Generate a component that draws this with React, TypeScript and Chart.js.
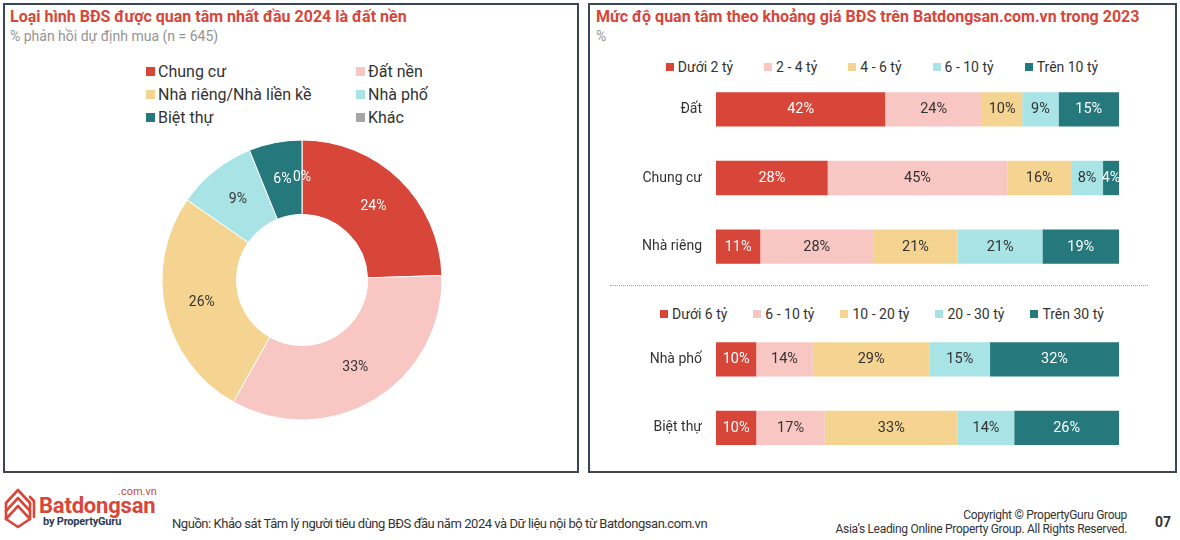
import React, { useEffect, useRef } from 'react';
import { Chart, registerables } from 'chart.js';

Chart.register(...registerables);

const RED = '#D8463A';
const PINK = '#F9C7C3';
const YELLOW = '#F5D491';
const CYAN = '#A8E3E6';
const TEAL = '#25797D';
const GREY = '#A6A6A6';
const DARK = '#333333';
const FONT = 'Roboto, "Noto Sans", sans-serif';

// Donut: Loại hình BĐS
const donutLabels = ['Chung cư', 'Đất nền', 'Nhà riêng/Nhà liền kề', 'Nhà phố', 'Biệt thự', 'Khác'];
const donutValues = [24, 33, 26, 9, 6, 0];
const donutColors = [RED, PINK, YELLOW, CYAN, TEAL, GREY];
const donutTextColors = ['#fff', DARK, DARK, DARK, '#fff', '#fff'];

// Top stacked bars
const topBands = ['Dưới 2 tỷ', '2 - 4 tỷ', '4 - 6 tỷ', '6 - 10 tỷ', 'Trên 10 tỷ'];
const topCategories = ['Đất', 'Chung cư', 'Nhà riêng'];
const datValues = [42, 24, 10, 9, 15];
const chungCuValues = [28, 45, 16, 8, 4];
const nhaRiengValues = [11, 28, 21, 21, 19];

// Bottom stacked bars
const bottomBands = ['Dưới 6 tỷ', '6 - 10 tỷ', '10 - 20 tỷ', '20 - 30 tỷ', 'Trên 30 tỷ'];
const bottomCategories = ['Nhà phố', 'Biệt thự'];
const nhaPhoValues = [10, 14, 29, 15, 32];
const bietThuValues = [10, 17, 33, 14, 26];

const bandColors = [RED, PINK, YELLOW, CYAN, TEAL];
const bandTextColors = ['#fff', DARK, DARK, DARK, '#fff'];

const donutLabelPlugin = {
  id: 'donutLabels',
  afterDatasetsDraw(chart: any) {
    const ctx = chart.ctx;
    const meta = chart.getDatasetMeta(0);
    const ds = chart.data.datasets[0];
    ctx.save();
    ctx.font = `14px ${FONT}`;
    ctx.textAlign = 'center';
    ctx.textBaseline = 'middle';
    meta.data.forEach((el: any, i: number) => {
      const p = el.getProps(['startAngle', 'endAngle', 'innerRadius', 'outerRadius', 'x', 'y'], true);
      const mid = (p.startAngle + p.endAngle) / 2;
      const r = (p.innerRadius + p.outerRadius) / 2;
      ctx.fillStyle = donutTextColors[i];
      ctx.fillText(ds.data[i] + '%', p.x + r * Math.cos(mid), p.y + r * Math.sin(mid));
    });
    ctx.restore();
  },
};

const barLabelPlugin = {
  id: 'barLabels',
  afterDatasetsDraw(chart: any) {
    const ctx = chart.ctx;
    ctx.save();
    ctx.font = `14.5px ${FONT}`;
    ctx.textAlign = 'center';
    ctx.textBaseline = 'middle';
    chart.data.datasets.forEach((ds: any, di: number) => {
      const meta = chart.getDatasetMeta(di);
      meta.data.forEach((el: any, i: number) => {
        const c = el.getCenterPoint();
        ctx.fillStyle = bandTextColors[di];
        ctx.fillText(ds.rawValues[i] + '%', c.x, c.y + 0.5);
      });
    });
    ctx.restore();
  },
};

function useChart(ref: React.RefObject<HTMLCanvasElement | null>, makeConfig: () => any) {
  useEffect(() => {
    if (!ref.current) return;
    const chart = new Chart(ref.current, makeConfig());
    return () => chart.destroy();
  }, []);
}

function Donut() {
  const ref = useRef<HTMLCanvasElement>(null);
  useChart(ref, () => ({
    type: 'doughnut',
    data: {
      labels: donutLabels,
      datasets: [
        {
          data: donutValues,
          backgroundColor: donutColors,
          borderColor: '#fff',
          borderWidth: 1,
        },
      ],
    },
    options: {
      animation: false,
      responsive: false,
      radius: 140,
      cutout: 70,
      layout: { padding: 0 },
      plugins: { legend: { display: false }, tooltip: { enabled: false } },
    },
    plugins: [donutLabelPlugin],
  }));
  return (
    <canvas
      ref={ref}
      width={300}
      height={300}
      style={{ position: 'absolute', left: 152, top: 130, width: 300, height: 300 }}
    />
  );
}

function StackedBars(props: { categories: string[]; rows: number[][]; bands: string[]; top: number; height: number }) {
  const ref = useRef<HTMLCanvasElement>(null);
  const { categories, rows, bands, top, height } = props;
  useChart(ref, () => {
    const sums = rows.map((r) => r.reduce((a, b) => a + b, 0));
    const datasets = bands.map((b, j) => ({
      label: b,
      data: rows.map((r, i) => (r[j] / sums[i]) * 100),
      rawValues: rows.map((r) => r[j]),
      backgroundColor: bandColors[j],
      borderWidth: 0,
      barPercentage: 0.5,
      categoryPercentage: 1,
    }));
    return {
      type: 'bar',
      data: { labels: categories, datasets },
      options: {
        animation: false,
        responsive: false,
        indexAxis: 'y',
        layout: { padding: { left: 0, right: 55, top: 0, bottom: 0 } },
        plugins: { legend: { display: false }, tooltip: { enabled: false } },
        scales: {
          x: { stacked: true, min: 0, max: 100, display: false },
          y: {
            stacked: true,
            grid: { display: false, drawTicks: false },
            border: { display: false },
            ticks: { color: DARK, font: { family: FONT, size: 14 }, padding: 14 },
            afterFit: (scale: any) => {
              scale.width = 126;
              scale.paddingTop = 0;
              scale.paddingBottom = 0;
            },
          },
        },
      },
      plugins: [barLabelPlugin],
    };
  });
  return (
    <canvas
      ref={ref}
      width={584}
      height={height}
      style={{ position: 'absolute', left: 590, top, width: 584, height }}
    />
  );
}

function BandLegend(props: { bands: string[]; top: number; gap: number }) {
  return (
    <div
      style={{
        position: 'absolute',
        left: 590,
        width: 584,
        top: props.top,
        height: 20,
        display: 'flex',
        justifyContent: 'center',
        alignItems: 'center',
        gap: props.gap,
        fontSize: 14,
        color: DARK,
      }}
    >
      {props.bands.map((b, i) => (
        <div key={b} style={{ display: 'flex', alignItems: 'center', whiteSpace: 'nowrap' }}>
          <span style={{ width: 8, height: 8, background: bandColors[i], marginRight: 4, display: 'inline-block' }} />
          <span>{b}</span>
        </div>
      ))}
    </div>
  );
}

function DonutLegend() {
  const colX = [146, 356];
  const rowY = [71, 94, 117];
  return (
    <>
      {donutLabels.map((l, i) => (
        <div
          key={l}
          style={{
            position: 'absolute',
            left: colX[i % 2],
            top: rowY[Math.floor(i / 2)] - 10,
            height: 20,
            display: 'flex',
            alignItems: 'center',
            fontSize: 16,
            color: DARK,
            whiteSpace: 'nowrap',
          }}
        >
          <span style={{ width: 9, height: 9, background: donutColors[i], marginRight: 3, display: 'inline-block' }} />
          <span>{l}</span>
        </div>
      ))}
    </>
  );
}

function Logo() {
  return (
    <>
      <svg
        width={34}
        height={42}
        viewBox="0 0 34 42"
        style={{ position: 'absolute', left: 3, top: 487 }}
      >
        <g fill="none" stroke={RED} strokeWidth={2.6} strokeLinejoin="round" strokeLinecap="round">
          <polyline points="3,16 15,3 27,16" />
          <polyline points="3,24 15,11 27,24" />
          <polyline points="3,32 15,19 27,32" />
          <polyline points="3,16 3,32 15,40 27,32 27,16" />
          <polyline points="27,10 31,14 31,30" />
        </g>
      </svg>
      <div style={{ position: 'absolute', left: 118, top: 486, fontSize: 11, color: RED, lineHeight: '12px' }}>.com.vn</div>
      <div
        style={{
          position: 'absolute',
          left: 39,
          top: 493,
          fontSize: 22,
          fontWeight: 700,
          color: RED,
          lineHeight: '26px',
          letterSpacing: -0.2,
        }}
      >
        Batdongsan
      </div>
      <div
        style={{
          position: 'absolute',
          left: 43,
          top: 515,
          fontSize: 11,
          fontWeight: 700,
          color: '#2E3B55',
          lineHeight: '14px',
          letterSpacing: -0.2,
        }}
      >
        by PropertyGuru
      </div>
    </>
  );
}

export default function App() {
  const panel = (left: number, width: number) => ({
    position: 'absolute' as const,
    left,
    top: 3,
    width,
    height: 470,
    border: '2px solid #3B4654',
    boxSizing: 'border-box' as const,
  });
  return (
    <div
      style={{
        position: 'fixed',
        left: 0,
        top: 0,
        width: 1180,
        height: 540,
        background: '#fff',
        overflow: 'hidden',
        fontFamily: FONT,
      }}
    >
      <div style={panel(3, 576)} />
      <div style={panel(588, 589)} />

      <div style={{ position: 'absolute', left: 10, top: 7, fontSize: 16, fontWeight: 700, color: RED, lineHeight: '20px', whiteSpace: 'nowrap' }}>
        Loại hình BĐS được quan tâm nhất đầu 2024 là đất nền
      </div>
      <div style={{ position: 'absolute', left: 10, top: 28, fontSize: 14, color: '#949494', lineHeight: '16px', whiteSpace: 'nowrap' }}>
        % phản hồi dự định mua (n = 645)
      </div>
      <DonutLegend />
      <Donut />

      <div style={{ position: 'absolute', left: 596, top: 7, fontSize: 16, fontWeight: 700, color: RED, lineHeight: '20px', whiteSpace: 'nowrap' }}>
        Mức độ quan tâm theo khoảng giá BĐS trên Batdongsan.com.vn trong 2023
      </div>
      <div style={{ position: 'absolute', left: 596, top: 28, fontSize: 14, color: '#949494', lineHeight: '16px' }}>%</div>

      <BandLegend bands={topBands} top={57} gap={31} />
      <StackedBars categories={topCategories} rows={[datValues, chungCuValues, nhaRiengValues]} bands={topBands} top={75} height={206} />

      <div style={{ position: 'absolute', left: 610, top: 285, width: 538, borderTop: '1.5px dotted #A0A0A0' }} />

      <BandLegend bands={bottomBands} top={304} gap={26} />
      <StackedBars categories={bottomCategories} rows={[nhaPhoValues, bietThuValues]} bands={bottomBands} top={325} height={137} />

      <Logo />
      <div style={{ position: 'absolute', left: 172, top: 516, fontSize: 13, color: DARK, lineHeight: '15px', whiteSpace: 'nowrap', letterSpacing: -0.45 }}>
        Nguồn: Khảo sát Tâm lý người tiêu dùng BĐS đầu năm 2024 và Dữ liệu nội bộ từ Batdongsan.com.vn
      </div>
      <div style={{ position: 'absolute', right: 53, top: 508, fontSize: 12, color: DARK, lineHeight: '14px', textAlign: 'right', whiteSpace: 'nowrap', letterSpacing: -0.3 }}>
        Copyright © PropertyGuru Group
        <br />
        Asia’s Leading Online Property Group. All Rights Reserved.
      </div>
      <div style={{ position: 'absolute', left: 1155, top: 514, fontSize: 14, fontWeight: 700, color: DARK, lineHeight: '16px' }}>07</div>
    </div>
  );
}
